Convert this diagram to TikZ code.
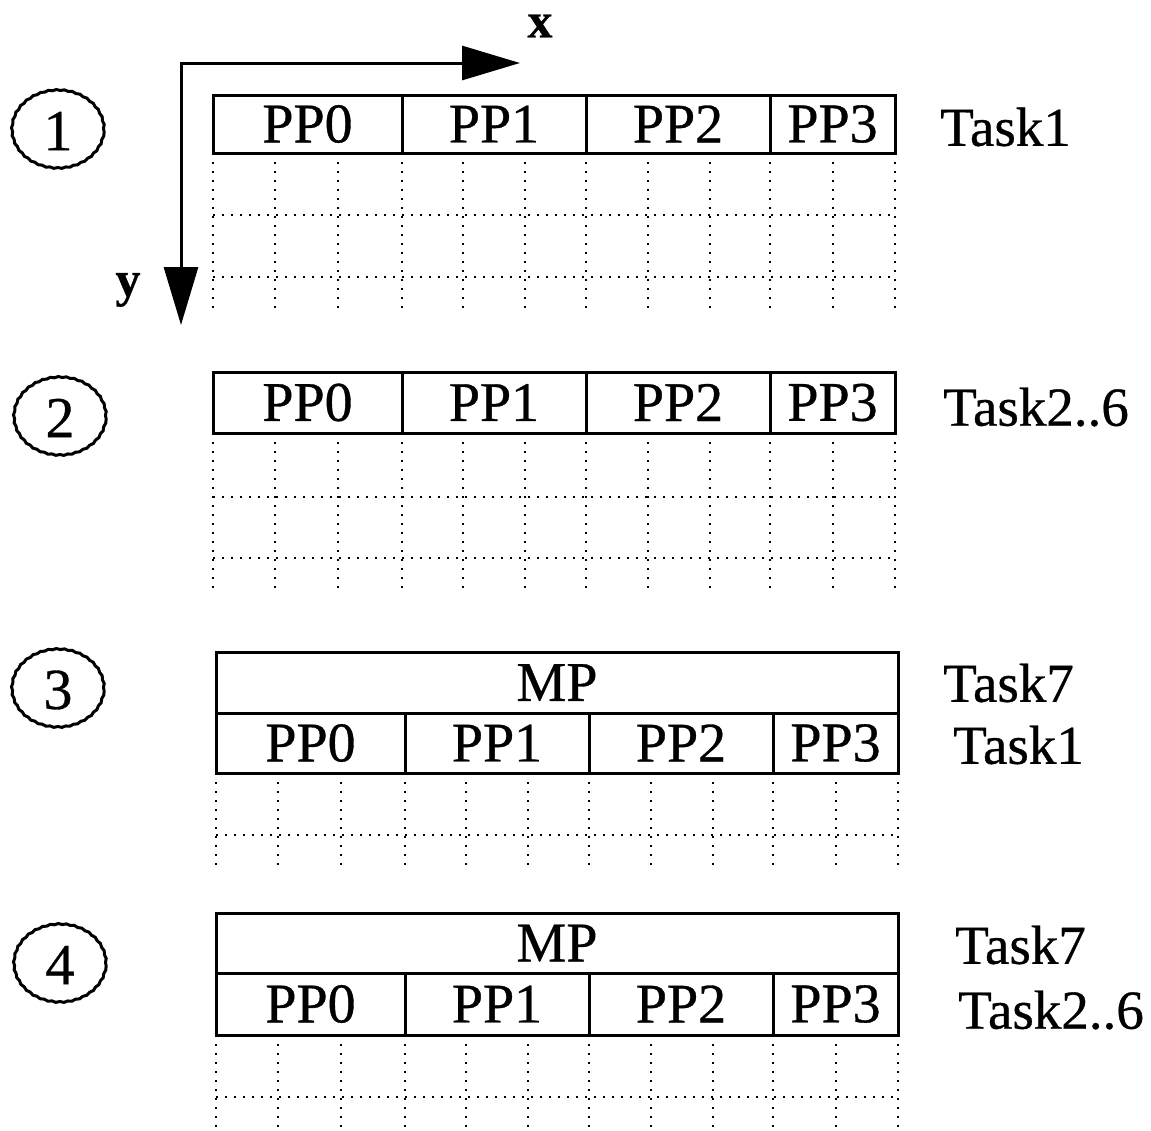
\documentclass[tikz,border=0pt]{standalone}
\usepackage{fontspec}
\setmainfont[FakeBold=0.6]{Liberation Serif}
\usetikzlibrary{arrows.meta,shapes.geometric,decorations.pathmorphing}

% a framed cell given by its corners: name, x1, y1, x2, y2, text
\newcommand\cellbox[6]{%
  \node[box, minimum width={(#4)-(#2)}, minimum height={(#5)-(#3)}]
    (#1) at ({((#2)+(#4))/2},{((#3)+(#5))/2}) {#6};}

% the four processor cells of one row: prefix, x shift, top, bottom
\newcommand\pprow[4]{%
  \cellbox{#1a}{213+#2}{#3}{402+#2}{#4}{PP0}
  \cellbox{#1b}{402+#2}{#3}{586+#2}{#4}{PP1}
  \cellbox{#1c}{586+#2}{#3}{770+#2}{#4}{PP2}
  \cellbox{#1d}{770+#2}{#3}{895+#2}{#4}{PP3}}

% dotted grid below a row: x shift, top, bottom, list of horizontal lines
\newcommand\dotgrid[4]{%
  \foreach \gx in {213,275,338,402,463,525,586,648,710,770,833,895}
    \draw[gridline] (\gx+#1,#2) -- (\gx+#1,#3);
  \foreach \gy in {#4}
    \draw[gridline] (213+#1,\gy) -- (895+#1,\gy);}

\begin{document}
\begin{tikzpicture}[x=1pt,y=-1pt,
  box/.style={draw, line width=3pt, inner sep=0pt, font=\fontsize{56}{56}\selectfont},
  gridline/.style={line width=2.4pt, dash pattern=on 2.4pt off 6.6pt},
  tag/.style={anchor=west, inner sep=0pt, font=\fontsize{55}{55}\selectfont},
  badge/.style={draw, ellipse, line width=3pt, minimum width=92pt, minimum height=78pt,
    inner sep=0pt, decorate, decoration={snake, amplitude=0.5pt, segment length=8pt},
    font=\fontsize{58}{58}\selectfont},
  axislabel/.style={inner sep=0pt, font=\fontsize{50}{50}\selectfont\bfseries}]

\useasboundingbox (0,0) rectangle (1151,1130);

% coordinate axes
\coordinate (xtip) at (520,63);
\coordinate (origin) at (181,63);
\coordinate (ytip) at (181,325);
\draw[line width=3pt, {Triangle[length=58pt,width=34pt]}-{Triangle[length=58pt,width=34pt]}]
  (xtip) -- (origin) -- (ytip);
\node[axislabel] (xlab) at (540,26) {x};
\node[axislabel] (ylab) at (128,290) {y};

% step markers
\node[badge] (s1) at (58,131) {1};
\node[badge] (s2) at (60,418) {2};
\node[badge] (s3) at (58,690) {3};
\node[badge] (s4) at (60,965) {4};

% step 1
\pprow{r1}{0}{95}{153}
\dotgrid{0}{153}{310}{215,277}
\node[tag] (t1) at (940,127) {Task1};

% step 2
\pprow{r2}{0}{372}{433}
\dotgrid{0}{433}{590}{497,558}
\node[tag] (t2) at (943,407) {Task2..6};

% step 3
\cellbox{m3}{216}{652}{898}{713}{MP}
\pprow{r3}{3}{713}{773}
\dotgrid{3}{773}{865}{835}
\node[tag] (t3a) at (943,683) {Task7};
\node[tag] (t3b) at (953,745) {Task1};

% step 4
\cellbox{m4}{216}{913}{898}{973}{MP}
\pprow{r4}{3}{973}{1035}
\dotgrid{3}{1035}{1130}{1097}
\node[tag] (t4a) at (955,945) {Task7};
\node[tag] (t4b) at (958,1010) {Task2..6};

\end{tikzpicture}
\end{document}
